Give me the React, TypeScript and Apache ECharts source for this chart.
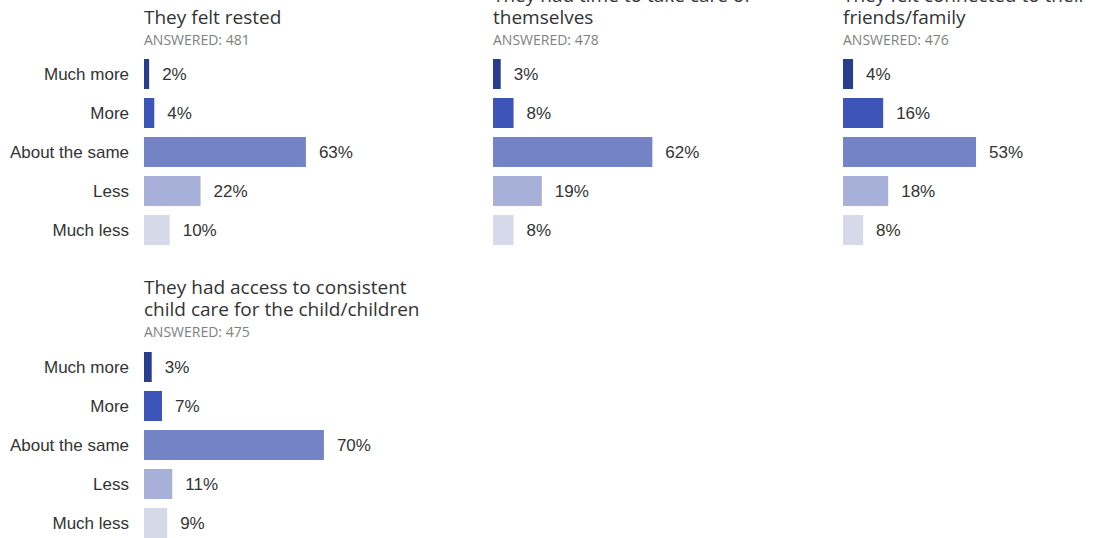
import React, { useEffect, useRef } from "react";
import * as echarts from "echarts";

const categories = ["Much more", "More", "About the same", "Less", "Much less"];
const colors = ["#293d8e", "#3d55b8", "#7383c6", "#a7b0d9", "#d5d9ea"];

const titles = [
  "They felt rested",
  "They had time to take care of\nthemselves",
  "They felt connected to their\nfriends/family",
  "They had access to consistent\nchild care for the child/children",
];
const answered = [481, 478, 476, 475];

const restedValues = [2, 4, 63, 22, 10];
const selfCareValues = [3, 8, 62, 19, 8];
const connectedValues = [4, 16, 53, 18, 8];
const childCareValues = [3, 7, 70, 11, 9];
const panelValues = [restedValues, selfCareValues, connectedValues, childCareValues];

const panels = [
  { left: 144, top: 54.5, titleBottom: 24, answeredY: 39, showLabels: true },
  { left: 493, top: 54.5, titleBottom: 24, answeredY: 39, showLabels: false },
  { left: 843, top: 54.5, titleBottom: 24, answeredY: 39, showLabels: false },
  { left: 144, top: 347.5, titleBottom: 316, answeredY: 331, showLabels: true },
];

export default function App() {
  const ref = useRef<HTMLDivElement>(null);
  useEffect(() => {
    if (!ref.current) return;
    const chart = echarts.init(ref.current, null, { renderer: "svg" });
    const grid: any[] = [];
    const xAxis: any[] = [];
    const yAxis: any[] = [];
    const series: any[] = [];
    const graphic: any[] = [];
    panels.forEach((p, i) => {
      grid.push({ left: p.left, top: p.top, width: 257, height: 195, containLabel: false });
      xAxis.push({ gridIndex: i, type: "value", min: 0, max: 100, show: false });
      yAxis.push({
        gridIndex: i,
        type: "category",
        data: categories,
        inverse: true,
        axisLine: { show: false },
        axisTick: { show: false },
        splitLine: { show: false },
        axisLabel: {
          show: p.showLabels,
          margin: 15,
          fontFamily: "Liberation Sans, Arial, sans-serif",
          fontSize: 17,
          color: "#333",
        },
      });
      series.push({
        type: "bar",
        xAxisIndex: i,
        yAxisIndex: i,
        barWidth: 30,
        data: panelValues[i].map((v, k) => ({ value: v, itemStyle: { color: colors[k] } })),
        label: {
          show: true,
          position: "right",
          distance: 13,
          formatter: "{c}%",
          fontFamily: "Liberation Sans, Arial, sans-serif",
          fontSize: 17,
          color: "#333",
        },
      });
      const lines = titles[i].split("\n").length;
      graphic.push({
        type: "text",
        left: p.left,
        top: p.titleBottom - lines * 22 + 4,
        style: {
          text: titles[i],
          fontFamily: "Open Sans, sans-serif",
          fontSize: 19,
          lineHeight: 22,
          fill: "#333",
        },
      });
      graphic.push({
        type: "text",
        left: p.left,
        top: p.answeredY - 8,
        style: {
          text: "ANSWERED: " + answered[i],
          fontFamily: "Open Sans, sans-serif",
          fontSize: 14,
          lineHeight: 16,
          fill: "#808080",
        },
      });
    });
    chart.setOption({ animation: false, grid, xAxis, yAxis, series, graphic });
    return () => chart.dispose();
  }, []);
  return (
    <div
      ref={ref}
      style={{ position: "fixed", left: 0, top: 0, width: 1094, height: 560, background: "#fff" }}
    />
  );
}
